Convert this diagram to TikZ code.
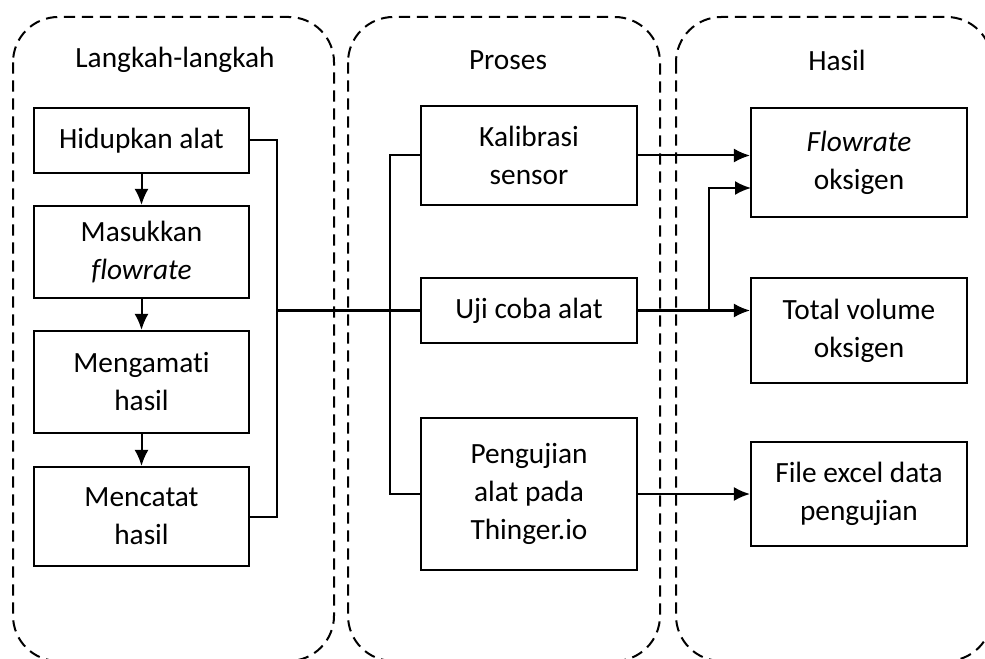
\documentclass[tikz,border=0pt]{standalone}
\usepackage{fontspec}
\setmainfont{Carlito}[Ligatures=NoCommon]
\usetikzlibrary{arrows.meta}

\tikzset{every picture/.style={line width=0.75pt}}
\tikzset{
  kotak/.style={draw, line width=1.6pt, align=center, inner sep=0pt, font=\fontsize{22}{28.5}\selectfont},
  wadah/.style={draw, line width=1.5pt, dash pattern=on 8.5pt off 5pt, rounded corners=34pt},
  judul/.style={font=\fontsize{22}{28.5}\selectfont},
  garis/.style={line width=1.5pt},
  panah/.style={line width=1.5pt, -{Latex[length=12pt,width=10.5pt]}}
}

\begin{document}
\begin{tikzpicture}[x=0.75pt,y=0.75pt,yscale=-1,xscale=1]

\clip (0,0) rectangle (985,659);

\draw  [wadah]  (13,17) rectangle (334,661) ;
\draw  [wadah]  (348,17) rectangle (660,661) ;
\draw  [wadah]  (676,17) rectangle (992,661) ;

\node [judul] (jLangkah) at (175,60) {Langkah-langkah};
\node [judul] (jProses) at (508,60) {Proses};
\node [judul] (jHasil) at (837,60) {Hasil};

\node [kotak, minimum width=161pt, minimum height=48.75pt] (hidup) at (141.5,140.5) {Hidupkan alat};
\node [kotak, minimum width=161pt, minimum height=69pt] (masuk) at (141.5,252) {Masukkan\\\textit{flowrate}};
\node [kotak, minimum width=161pt, minimum height=76.5pt] (amati) at (141.5,382) {Mengamati\\hasil};
\node [kotak, minimum width=161pt, minimum height=74.25pt] (catat) at (141.5,516.5) {Mencatat\\hasil};

\node [kotak, minimum width=162pt, minimum height=74.25pt] (kalib) at (529,155.5) {Kalibrasi\\sensor};
\node [kotak, minimum width=162pt, minimum height=48.75pt] (uji) at (529,310.5) {Uji coba alat};
\node [kotak, minimum width=162pt, minimum height=114pt] (thinger) at (529,494) {Pengujian\\alat pada\\Thinger.io};

\node [kotak, minimum width=162pt, minimum height=81.75pt] (flow) at (859,162.5) {\textit{Flowrate}\\oksigen};
\node [kotak, minimum width=162pt, minimum height=78.75pt] (total) at (859,330.5) {Total volume\\oksigen};
\node [kotak, minimum width=162pt, minimum height=78pt] (excel) at (859,494) {File excel data\\pengujian};

\coordinate (busKiri) at (277,310.5);
\coordinate (busTengah) at (390,310.5);
\coordinate (cabang) at (709,310.5);
\coordinate (flowMasuk) at (751,188);

\draw  [panah]  (hidup) -- (masuk) ;
\draw  [panah]  (masuk) -- (amati) ;
\draw  [panah]  (amati) -- (catat) ;

\draw  [garis]  (hidup.east) -| (busKiri) |- (catat.east) ;
\draw  [garis]  (busKiri) -- (uji.west) ;
\draw  [garis]  (kalib.west) -| (busTengah) |- (thinger.west) ;

\draw  [panah]  (kalib.east) -- (kalib.east -| flow.west) ;
\draw  [panah]  (uji.east) -- (uji.east -| total.west) ;
\draw  [panah]  (cabang) |- (flowMasuk) ;
\draw  [panah]  (thinger.east) -- (thinger.east -| excel.west) ;

\end{tikzpicture}
\end{document}
